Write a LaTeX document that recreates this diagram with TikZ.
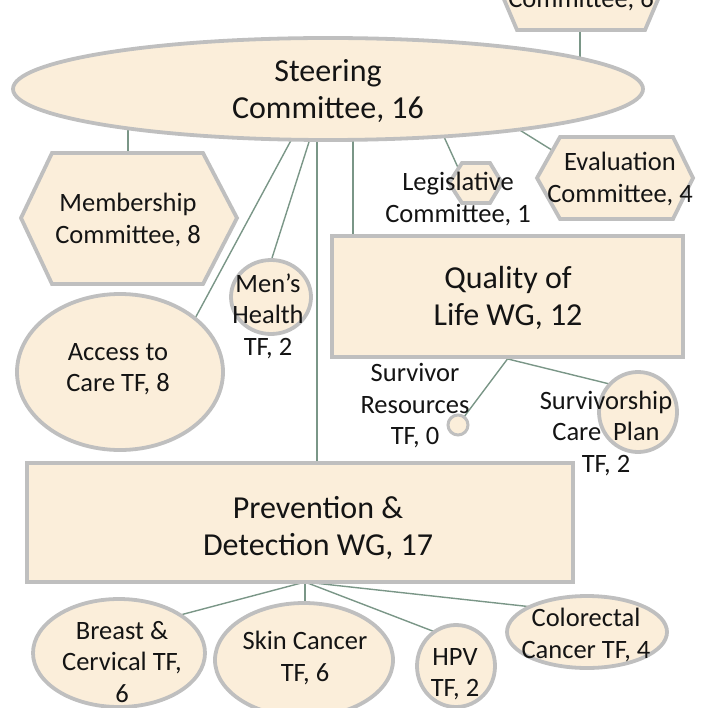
\documentclass[tikz,border=0pt]{standalone}
\usepackage{fontspec}
\setmainfont{Carlito}
\usetikzlibrary{shapes.geometric}
\definecolor{boxfill}{RGB}{251,238,218}
\definecolor{boxline}{RGB}{191,191,191}
\definecolor{linkc}{RGB}{122,150,135}
\definecolor{txt}{RGB}{20,20,20}
\pgfdeclarelayer{bg}
\pgfsetlayers{bg,main}
\begin{document}
\begin{tikzpicture}[x=1pt,y=-1pt,
  shapebox/.style={fill=boxfill,draw=boxline,line width=3.8pt},
  ell/.style={shapebox,ellipse,inner sep=0pt},
  rectbox/.style={shapebox,rectangle,inner sep=0pt},
  link/.style={draw=linkc,line width=1.4pt},
  small/.style={align=center,text=txt,font=\fontsize{26.5}{31.5}\selectfont,inner sep=0pt},
  big/.style={align=center,text=txt,font=\fontsize{32}{37}\selectfont,inner sep=0pt}]
\useasboundingbox (0,0) rectangle (704,708);

% ---- shapes ----
\node[ell, minimum width=630pt, minimum height=102pt] (steer) at (328,89) {};

\draw[shapebox] (517,30) -- (645,30) -- (662,-10) -- (645,-50) -- (517,-50) -- (500,-10) -- cycle;
\coordinate (tophex) at (580,-10);

\draw[shapebox] (52,153) -- (203,153) -- (237,218) -- (203,284) -- (52,284) -- (21,218) -- cycle;
\coordinate (memb) at (128,218);

\draw[shapebox] (462,163) -- (490,163) -- (502,183) -- (490,203) -- (462,203) -- (449,183) -- cycle;
\coordinate (leg) at (465,183);

\draw[shapebox] (560,137) -- (673,137) -- (693,178) -- (673,219) -- (560,219) -- (537,178) -- cycle;
\coordinate (eval) at (600,180);

\node[rectbox, minimum width=351pt, minimum height=121pt] (qol) at (507.5,296.5) {};
\node[ell, minimum width=80pt, minimum height=74pt] (men) at (271,297) {};
\node[ell, minimum width=206pt, minimum height=156pt] (acc) at (120,372) {};
\node[ell, line width=3pt, minimum width=20pt, minimum height=20pt] (surv) at (458,425) {};
\node[ell, minimum width=78pt, minimum height=80pt] (ship) at (638,412) {};
\node[rectbox, minimum width=546pt, minimum height=119pt] (prev) at (300,522.5) {};
\node[ell, minimum width=172pt, minimum height=108pt] (breast) at (119,653) {};
\node[ell, minimum width=178pt, minimum height=114pt] (skin) at (304,660) {};
\node[ell, minimum width=78pt, minimum height=82pt] (hpv) at (456,666) {};
\node[ell, minimum width=160pt, minimum height=72pt] (colo) at (587,632) {};

% ---- connector end points inside shapes ----
\coordinate (sLeg) at (440,128);
\coordinate (sEval) at (510,124);
\coordinate (sMen) at (316,120);
\coordinate (menEnd) at (272,258);
\coordinate (sAcc) at (302,120);
\coordinate (accEnd) at (185,337);
\coordinate (shipEnd) at (630,389);
\coordinate (pj) at (305,582);
\coordinate (breastEnd) at (150,623);
\coordinate (hpvEnd) at (456,640);
\coordinate (coloEnd) at (560,610);

\begin{pgfonlayer}{bg}
\draw[link] (tophex) -- (tophex |- steer.center);
\draw[link] (memb) -- (memb |- steer.center);
\draw[link] (leg) -- (sLeg);
\draw[link] (eval) -- (sEval);
\draw[link] (qol.north west) ++(23,0) coordinate (qtop) -- (qtop |- steer.center);
\draw[link] (menEnd) -- (sMen);
\draw[link] (accEnd) -- (sAcc);
\draw[link] (317,100) coordinate (svert) -- (svert |- prev.center);
\draw[link] (qol.south) -- (surv.center);
\draw[link] (qol.south) -- (shipEnd);
\draw[link] (pj) -- (breastEnd);
\draw[link] (pj) -- (pj |- skin.center);
\draw[link] (pj) -- (hpvEnd);
\draw[link] (pj) -- (coloEnd);
\end{pgfonlayer}

% ---- texts ----
\node[big] (steertxt) at (328,91) {Steering\\Committee, 16};
\node[small, anchor=base] (toptxt) at (581,8) {Committee, 6};
\node[small] (membtxt) at (128,220) {Membership\\Committee, 8};
\node[small] (legtxt) at (458,199) {Legislative\\Committee, 1};
\node[small] (evaltxt) at (620,179) {Evaluation\\Committee, 4};
\node[big] (qoltxt) at (508,298) {Quality of\\Life WG, 12};
\node[small] (mentxt) at (268,316) {Men’s\\Health\\TF, 2};
\node[small] (acctxt) at (118,369) {Access to\\Care TF, 8};
\node[small] (survtxt) at (415,406) {Survivor\\Resources\\TF, 0};
\node[small] (shiptxt) at (606,433) {Survivorship\\Care~ Plan\\TF, 2};
\node[big] (prevtxt) at (318,528) {Prevention \&\\Detection WG, 17};
\node[small] (breasttxt) at (122,662) {Breast \&\\Cervical TF,\\6};
\node[small] (skintxt) at (305,658) {Skin Cancer\\TF, 6};
\node[small] (hpvtxt) at (455,674) {HPV\\TF, 2};
\node[small] (colotxt) at (586,635) {Colorectal\\Cancer TF, 4};
\end{tikzpicture}
\end{document}
